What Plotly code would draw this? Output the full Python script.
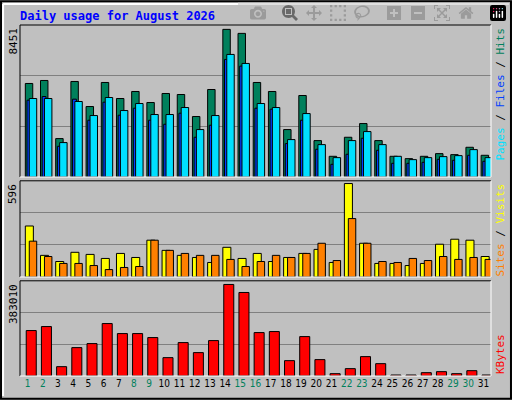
import plotly.graph_objects as go

days = list(range(1, 32))
hits = [5200, 5367, 2136, 5311, 3918, 5255, 4364, 4754, 4141, 4643, 4587, 3362, 4865, 8208, 7985, 5255,
        4754, 2637, 4531, 2024, 1151, 2210, 2971, 2024, 1151, 1021, 1151, 1300, 1244, 1653, 1207]
files = [4271, 4475, 1708, 4327, 3157, 4160, 3435, 3825, 3157, 2934, 3547, 2210, 2878, 6537, 6165, 3825,
         3770, 1857, 3157, 1541, 706, 1263, 2154, 1486, 761, 761, 817, 984, 929, 1207, 873]
pages = [4364, 4364, 1913, 4197, 3417, 4420, 3695, 4085, 3473, 3473, 3863, 2637, 3417, 6815, 6314, 4085,
         3863, 2080, 3528, 1801, 1077, 2024, 2526, 1801, 1151, 966, 1077, 1133, 1188, 1523, 1077]
sites = [316, 134, 96, 153, 140, 115, 146, 121, 228, 165, 134, 121, 90, 184, 115, 146,
         96, 121, 146, 171, 90, 579, 209, 84, 84, 71, 84, 203, 234, 228, 127]
visits = [222, 127, 84, 84, 71, 46, 59, 65, 228, 165, 146, 134, 134, 109, 65, 96,
          134, 121, 146, 209, 102, 362, 209, 96, 90, 115, 102, 127, 109, 121, 109]
kbytes = [182800, 198900, 37600, 114200, 130400, 211000, 170700, 170700, 154600, 73900, 134400, 94100,
          142500, 368300, 336000, 174700, 178800, 61800, 158600, 65900, 9400, 29600, 78000, 49700,
          4000, 4000, 13400, 17500, 9400, 21500, 4000]
weekend = {1, 2, 8, 9, 15, 16, 22, 23, 29, 30}
max_top, max_mid, max_bot = 8451, 596, 383010

fig = go.Figure()
line = dict(color="black", width=1)


def bars(y, color, off, w, xa, ya):
    fig.add_trace(go.Bar(x=days, y=y, marker=dict(color=color, line=line), offset=off, width=w,
                         xaxis=xa, yaxis=ya, hoverinfo="skip"))


bars(hits, "#00805C", -0.15, 0.49, "x", "y")
bars(files, "#0040FF", -0.04, 0.25, "x", "y")
bars(pages, "#00E0FF", 0.11, 0.49, "x", "y")
bars(sites, "#FFFF00", -0.15, 0.53, "x2", "y2")
bars(visits, "#FF8000", 0.11, 0.49, "x2", "y2")
bars(kbytes, "#FF0000", -0.09, 0.66, "x3", "y3")

xd = [20 / 512, 491 / 512]
ticktext = ["<span style='color:#00805C'>%d</span>" % d if d in weekend else str(d) for d in days]
common_x = dict(domain=xd, range=[0.5, 31.5], showgrid=False, zeroline=False, showline=False)
fig.update_layout(
    width=512, height=400, margin=dict(l=0, r=0, t=0, b=0),
    paper_bgcolor="#C0C0C0", plot_bgcolor="#C0C0C0", showlegend=False, barmode="overlay",
    font=dict(family="DejaVu Sans Mono", size=11, color="black"),
    xaxis=dict(**common_x, anchor="y", showticklabels=False),
    xaxis2=dict(**common_x, anchor="y2", showticklabels=False),
    xaxis3=dict(**common_x, anchor="y3", tickmode="array", tickvals=days, ticktext=ticktext,
                ticks="", tickangle=0, tickfont=dict(size=10, family="DejaVu Sans Condensed")),
)
gy = dict(showticklabels=False, gridcolor="#808080", gridwidth=1, zeroline=False, ticks="")
fig.update_layout(
    yaxis=dict(domain=[0.5575, 0.9375], range=[0, max_top], tickvals=[max_top / 3, 2 * max_top / 3], **gy),
    yaxis2=dict(domain=[0.3075, 0.548], range=[0, max_mid], tickvals=[max_mid / 3, 2 * max_mid / 3], **gy),
    yaxis3=dict(domain=[0.06, 0.298], range=[0, max_bot], tickvals=[max_bot / 3, 2 * max_bot / 3], **gy),
)

# frames
shapes = [dict(type="rect", xref="paper", yref="paper", x0=0.002, x1=0.998, y0=0.003, y1=0.997,
               line=dict(color="black", width=2)),
          dict(type="line", xref="paper", yref="paper", x0=0.006, x1=0.006, y0=0.01, y1=0.99,
               line=dict(color="white", width=2)),
          dict(type="line", xref="paper", yref="paper", x0=0.006, x1=0.994, y0=0.99, y1=0.99,
               line=dict(color="white", width=2))]
for y0, y1 in [(0.5575, 0.9375), (0.3075, 0.548), (0.06, 0.298)]:
    shapes.append(dict(type="line", xref="paper", yref="paper", x0=xd[0], x1=xd[1], y0=y1, y1=y1,
                       line=dict(color="black", width=1)))
    shapes.append(dict(type="line", xref="paper", yref="paper", x0=xd[0], x1=xd[0], y0=y0, y1=y1,
                       line=dict(color="black", width=1)))
    shapes.append(dict(type="line", xref="paper", yref="paper", x0=xd[0], x1=xd[1], y0=y0, y1=y0,
                       line=dict(color="white", width=1)))
    shapes.append(dict(type="line", xref="paper", yref="paper", x0=xd[1], x1=xd[1], y0=y0, y1=y1,
                       line=dict(color="white", width=1)))
fig.update_layout(shapes=shapes)

ann = [dict(x=18 / 512, y=1 - 7 / 400, text="<b>Daily usage for August 2026</b>", showarrow=False,
            xref="paper", yref="paper", xanchor="left", yanchor="top", font=dict(color="#0000FF", size=12))]
for val, ytop in [(max_top, 0.935), (max_mid, 0.545), (max_bot, 0.295)]:
    ann.append(dict(x=13 / 512, y=ytop, text=str(val), textangle=-90, showarrow=False, xref="paper",
                    yref="paper", xanchor="center", yanchor="top", font=dict(size=11)))
side = [("<span style='color:#00E0FF'>Pages</span> / <span style='color:#0040FF'>Files</span> / "
         "<span style='color:#00805C'>Hits</span>", 0.935, "top"),
        ("<span style='color:#FF8000'>Sites</span> / <span style='color:#FFFF00'>Visits</span>", 0.545, "top"),
        ("<span style='color:#FF0000'>KBytes</span>", 0.06, "bottom")]
for t, yv, ya in side:
    ann.append(dict(x=500 / 512, y=yv, text=t, textangle=-90, showarrow=False, xref="paper", yref="paper",
                    xanchor="center", yanchor=ya, font=dict(size=11)))
fig.update_layout(annotations=ann)

fig.write_html("out.html", post_script="document.body.style.margin='0';document.body.style.overflow='hidden';")
